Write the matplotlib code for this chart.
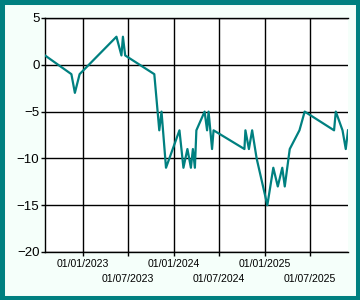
import matplotlib
matplotlib.use("Agg")
import matplotlib.pyplot as plt
import matplotlib.dates as mdates
import matplotlib.patches as patches
import pandas as pd

TEAL = "#008080"
MINT = "#f5fffa"

dates = [
    "2022-08-01", "2022-11-15", "2022-11-29", "2022-12-18", "2023-05-15",
    "2023-06-04", "2023-06-10", "2023-06-19", "2023-10-14", "2023-11-03",
    "2023-11-12", "2023-11-30", "2024-01-23", "2024-02-08", "2024-02-24",
    "2024-03-09", "2024-03-17", "2024-03-25", "2024-03-31", "2024-05-03",
    "2024-05-13", "2024-05-19", "2024-06-02", "2024-06-08", "2024-10-10",
    "2024-10-14", "2024-10-28", "2024-11-10", "2024-11-28", "2025-01-10",
    "2025-02-03", "2025-02-21", "2025-03-11", "2025-03-21", "2025-04-10",
    "2025-05-19", "2025-06-09", "2025-10-05", "2025-10-12", "2025-11-08",
    "2025-11-21", "2025-11-30",
]
values = [
    1, -1, -3, -1, 3,
    1, 3, 1, -1, -7,
    -5, -11, -7, -11, -9,
    -11, -9, -11, -7, -5,
    -7, -5, -9, -7, -9,
    -7, -9, -7, -10, -15,
    -11, -13, -11, -13, -9,
    -7, -5, -7, -5, -7,
    -9, -7,
]
tick_dates = ["2023-01-01", "2023-07-01", "2024-01-01", "2024-07-01", "2025-01-01", "2025-07-01"]
y_ticks = [-20, -15, -10, -5, 0, 5]

x = pd.to_datetime(dates)
xt = pd.to_datetime(tick_dates)

fig = plt.figure(figsize=(3.6, 3.0), dpi=100)
fig.patch.set_facecolor(MINT)
fig.patches.append(patches.Rectangle((0, 0), 1, 1, transform=fig.transFigure,
                                     fill=False, edgecolor=TEAL, linewidth=6.5))

ax = fig.add_axes([45 / 360, 48 / 300, 303 / 360, 234 / 300])
ax.set_facecolor("white")
ax.plot(x, values, color=TEAL, linewidth=1.6, zorder=3)

ax.set_xlim(x[0], x[-1])
ax.set_ylim(-20, 5)
ax.set_yticks(y_ticks)
ax.set_xticks(xt)
ax.set_xticklabels([d.strftime("%d/%m/%Y") for d in xt])
ax.grid(True, color="black", linewidth=1.0)

for s in ("right",):
    ax.spines[s].set_visible(False)
for s in ("left", "bottom", "top"):
    ax.spines[s].set_linewidth(1.0)

ax.tick_params(axis="y", direction="out", length=3, width=1, pad=1, labelsize=9.5)
ax.tick_params(axis="x", direction="out", length=3, width=1, pad=2, labelsize=7.6)
for lbl in ax.get_yticklabels() + ax.get_xticklabels():
    lbl.set_fontfamily("Liberation Sans")
for i, tick in enumerate(ax.xaxis.get_major_ticks()):
    if i % 2:
        tick.set_pad(12.5)

fig.savefig("out.png", dpi=100, facecolor=MINT)
